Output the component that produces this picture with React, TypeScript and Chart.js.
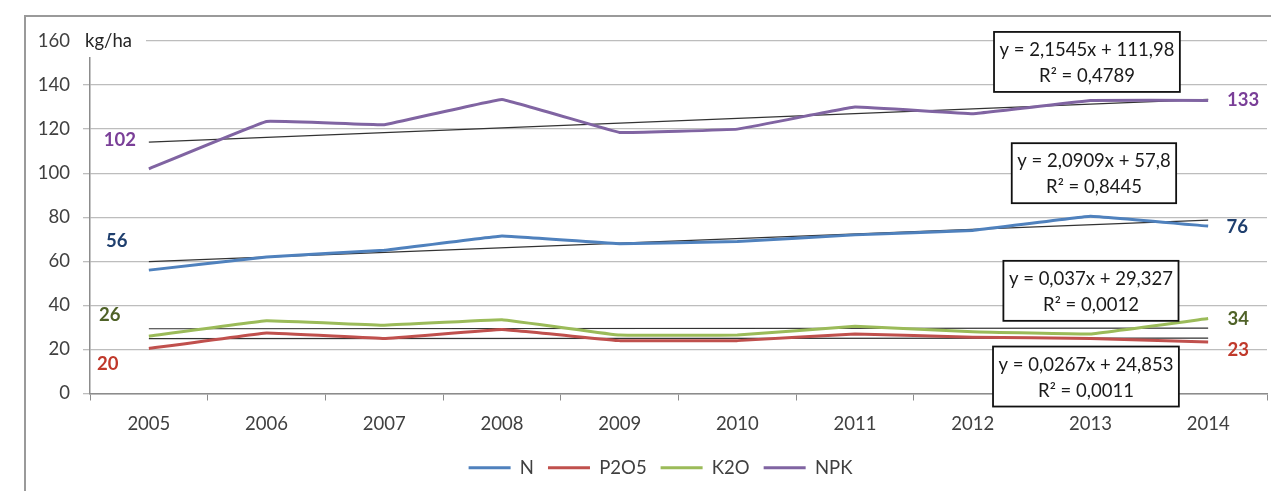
import React, { useEffect, useRef } from "react";
import { Chart, registerables } from "chart.js";

Chart.register(...registerables);

const years = ["2005", "2006", "2007", "2008", "2009", "2010", "2011", "2012", "2013", "2014"];
const seriesNames = ["N", "P2O5", "K2O", "NPK"];
const nValues = [56, 62, 65, 71.5, 68, 69, 72, 74, 80.5, 76];
const p2o5Values = [20.4, 27.5, 25, 29, 24, 24, 27, 25.5, 25, 23.4];
const k2oValues = [26, 33, 31, 33.5, 26.5, 26.5, 30.5, 28, 27, 34];
const npkValues = [102, 123.5, 122, 133.5, 118.5, 120, 130, 127, 133, 133];

// trend line end points
const trendN = [59.9, null, null, null, null, null, null, null, null, 78.7];
const trendP2O5 = [24.9, null, null, null, null, null, null, null, null, 25.1];
const trendK2O = [29.4, null, null, null, null, null, null, null, null, 29.7];
const trendNPK = [114.1, null, null, null, null, null, null, null, null, 133.5];

const firstLabels = ["56", "20", "26", "102"];
const lastLabels = ["76", "23", "34", "133"];

const eqN = ["y = 2,0909x + 57,8", "R² = 0,8445"];
const eqP2O5 = ["y = 0,0267x + 24,853", "R² = 0,0011"];
const eqK2O = ["y = 0,037x + 29,327", "R² = 0,0012"];
const eqNPK = ["y = 2,1545x + 111,98", "R² = 0,4789"];

const unitLabel = "kg/ha";

const lineColors = ["#4f81bd", "#c0504d", "#9bbb59", "#8064a2"];
const labelColors = ["#1f3f6e", "#c0392b", "#4f6228", "#7a3f98"];
const FONT = "Lato, 'Open Sans', sans-serif";
const FS = 18.5;

export default function App() {
  const ref = useRef<HTMLCanvasElement>(null);
  useEffect(() => {
    if (!ref.current) return;
    document.body.style.overflow = "hidden";
    const values = [nValues, p2o5Values, k2oValues, npkValues];
    const trends = [trendN, trendP2O5, trendK2O, trendNPK];

    const labelPlugin = {
      id: "labels",
      afterLayout(chart: any) {
        if (chart.legend) {
          chart.legend.left += 27;
          chart.legend.right += 27;
        }
      },
      afterDatasetsDraw(chart: any) {
        const ctx = chart.ctx;
        const xs = chart.scales.x;
        const ys = chart.scales.y;
        ctx.save();
        const firstOff = [[-32, -29], [-41, 15], [-39, -21], [-29, -29]];
        const lastOff = [[29, 1], [30, 8], [30, 0], [35, 0]];
        ctx.font = `bold ${FS}px ${FONT}`;
        ctx.textAlign = "center";
        ctx.textBaseline = "middle";
        for (let i = 0; i < 4; i++) {
          const meta = chart.getDatasetMeta(i);
          const p0 = meta.data[0];
          const p1 = meta.data[meta.data.length - 1];
          ctx.fillStyle = labelColors[i];
          ctx.fillText(firstLabels[i], p0.x + firstOff[i][0], p0.y + firstOff[i][1]);
          ctx.fillText(lastLabels[i], p1.x + lastOff[i][0], p1.y + lastOff[i][1]);
        }
        const boxes = [
          { lines: eqNPK, idx: 8, dx: -3.5, yv: 150.5 },
          { lines: eqN, idx: 8, dx: 3.5, yv: 100 },
          { lines: eqK2O, idx: 8, dx: 0.5, yv: 46.6 },
          { lines: eqP2O5, idx: 8, dx: -4.5, yv: 7.7 },
        ];
        ctx.font = `${FS}px ${FONT}`;
        for (const b of boxes) {
          const cx = xs.getPixelForValue(b.idx) + b.dx;
          const cy = ys.getPixelForValue(b.yv);
          const w = Math.max(...b.lines.map((l) => ctx.measureText(l).width)) + 11;
          const h = 60;
          ctx.fillStyle = "#ffffff";
          ctx.fillRect(cx - w / 2, cy - h / 2, w, h);
          ctx.strokeStyle = "#111111";
          ctx.lineWidth = 1.8;
          ctx.strokeRect(cx - w / 2, cy - h / 2, w, h);
          ctx.fillStyle = "#1a1a1a";
          ctx.fillText(b.lines[0], cx, cy - 12);
          ctx.fillText(b.lines[1], cx, cy + 14);
        }
        const ux = chart.chartArea.left;
        const uy = ys.getPixelForValue(160);
        ctx.fillStyle = "#ffffff";
        ctx.fillRect(ux - 10, uy - 13, 66, 29);
        ctx.fillStyle = "#262626";
        ctx.textAlign = "left";
        ctx.fillText(unitLabel, ux - 5, uy);
        ctx.restore();
      },
    };

    const datasets: any[] = [];
    for (let i = 0; i < 4; i++) {
      datasets.push({
        label: seriesNames[i],
        data: values[i],
        borderColor: lineColors[i],
        backgroundColor: lineColors[i],
        borderWidth: 3,
        pointRadius: 0,
        tension: 0.05,
        borderJoinStyle: "round",
        order: 0,
      });
    }
    for (let i = 0; i < 4; i++) {
      datasets.push({
        label: "trend" + i,
        data: trends[i],
        borderColor: "#333333",
        backgroundColor: "#333333",
        borderWidth: 1.2,
        pointRadius: 0,
        spanGaps: true,
        tension: 0,
        order: 1,
      });
    }

    const chart = new Chart(ref.current, {
      type: "line",
      data: { labels: years, datasets },
      plugins: [labelPlugin],
      options: {
        animation: false,
        responsive: false,
        layout: { padding: { top: 41, right: 4, left: 0, bottom: 4 } },
        plugins: {
          tooltip: { enabled: false },
          legend: {
            position: "bottom",
            labels: {
              filter: (item: any) => !String(item.text).startsWith("trend"),
              usePointStyle: true,
              pointStyle: "line",
              pointStyleWidth: 42,
              boxHeight: 3,
              padding: 14,
              color: "#404040",
              font: { family: FONT, size: FS },
            },
          },
        },
        scales: {
          x: {
            offset: true,
            afterFit: (s: any) => {
              s.height = 51;
            },
            grid: { drawOnChartArea: false, drawTicks: true, tickLength: 7, color: "#8c8c8c", offset: true },
            border: { color: "#8c8c8c", width: 1.5 },
            ticks: { color: "#404040", padding: 12, font: { family: FONT, size: FS } },
          },
          y: {
            min: 0,
            max: 160,
            afterFit: (s: any) => {
              s.width = 90;
            },
            ticks: { stepSize: 20, color: "#404040", padding: 13, font: { family: FONT, size: FS } },
            grid: { color: "#bdbdbd", lineWidth: 1.3, tickLength: 7 },
            border: { color: "#8c8c8c", width: 1.5 },
          },
        },
      },
    });
    return () => chart.destroy();
  }, []);

  return (
    <div style={{ position: "fixed", left: 0, top: 0, width: 1271, height: 491, overflow: "hidden", background: "#fff" }}>
      <div
        style={{
          position: "absolute",
          left: 24,
          top: 15,
          width: 1400,
          height: 600,
          border: "2px solid #9a9a9a",
          boxSizing: "border-box",
        }}
      />
      <canvas ref={ref} width={1271} height={491} style={{ position: "absolute", left: 0, top: 0, width: 1271, height: 491 }} />
    </div>
  );
}
